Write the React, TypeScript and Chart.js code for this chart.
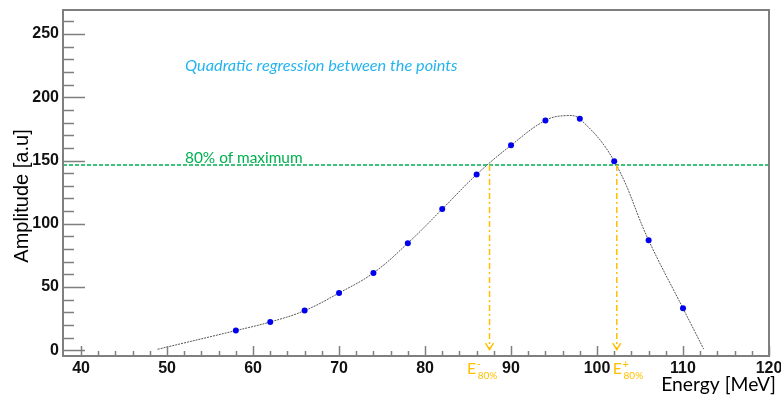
import React, { useEffect, useRef } from "react";
import { Chart, registerables } from "chart.js";

Chart.register(...registerables);

// measured points (blue)
const energies = [58, 62, 66, 70, 74, 78, 82, 86, 90, 94, 98, 102, 106, 110];
const amplitudes = [15.6, 22.4, 31.4, 45.3, 61.2, 84.7, 111.6, 139, 162, 181.7, 183, 149.5, 87, 33.2];

// regression curve (start, points, peak, end)
const curveEnergies = [48.9, 58, 62, 66, 70, 74, 78, 82, 86, 90, 94, 96.4, 98, 102, 106, 110, 112.4];
const curveAmplitudes = [0.8, 15.6, 22.4, 31.4, 45.3, 61.2, 84.7, 111.6, 139, 162, 181.7, 185.5, 183, 149.5, 87, 33.2, 1];

const threshold = 146.4; // 80% of maximum
const eMinus = 87.5;
const ePlus = 102.3;

const xTicks = [40, 50, 60, 70, 80, 90, 100, 110, 120];
const yTicks = [0, 50, 100, 150, 200, 250];
const xMinorStep = 2;
const yMinorStep = 10;
const xMin = 37.9;
const xMax = 120;
const yMin = -4.5;
const yMax = 269;

const GOLD = "#FFC000";
const GREEN = "#00B050";
const BLUE_TEXT = "#25B4EE";
const FRAME = "#7f7f7f";

const overlay = {
  id: "overlay",
  afterDatasetsDraw(chart: any) {
    const { ctx, chartArea: a, scales } = chart;
    const x = scales.x;
    const y = scales.y;
    ctx.save();

    // ticks inside the frame
    ctx.strokeStyle = FRAME;
    ctx.lineWidth = 1.5;
    ctx.beginPath();
    for (let v = yTicks[0]; v <= yMax; v += yMinorStep) {
      const py = Math.round(y.getPixelForValue(v)) + 0.5;
      const len = yTicks.includes(v) ? 22 : 11;
      ctx.moveTo(a.left, py);
      ctx.lineTo(a.left + len, py);
    }
    for (let v = xTicks[0]; v <= xMax; v += xMinorStep) {
      const px = Math.round(x.getPixelForValue(v)) + 0.5;
      const len = xTicks.includes(v) ? 10 : 5;
      ctx.moveTo(px, a.bottom);
      ctx.lineTo(px, a.bottom - len);
    }
    ctx.stroke();

    // frame
    ctx.lineWidth = 2;
    ctx.strokeRect(a.left, a.top, a.right - a.left, a.bottom - a.top);

    // vertical dash-dot lines with arrows
    ctx.strokeStyle = GOLD;
    ctx.lineWidth = 1.5;
    [eMinus, ePlus].forEach((e) => {
      const px = x.getPixelForValue(e);
      const pyTop = y.getPixelForValue(threshold);
      const pyBot = y.getPixelForValue(0.5);
      ctx.setLineDash([6, 3, 2, 3]);
      ctx.beginPath();
      ctx.moveTo(px, pyTop);
      ctx.lineTo(px, pyBot);
      ctx.stroke();
      ctx.setLineDash([]);
      ctx.beginPath();
      ctx.moveTo(px - 4, pyBot - 6.5);
      ctx.lineTo(px, pyBot);
      ctx.lineTo(px + 4, pyBot - 6.5);
      ctx.stroke();
    });

    // annotation texts
    ctx.textBaseline = "alphabetic";
    ctx.textAlign = "left";
    ctx.fillStyle = BLUE_TEXT;
    ctx.font = "italic 16.3px Lato";
    ctx.fillText("Quadratic regression between the points", 185, 71);

    ctx.fillStyle = GREEN;
    ctx.font = "15.4px Lato";
    ctx.fillText("80% of maximum", 185, 163);

    // E labels
    const drawE = (e: number, sign: string, dx: number) => {
      const px = x.getPixelForValue(e);
      ctx.fillStyle = GOLD;
      ctx.font = "16px Lato";
      const bx = px + dx;
      ctx.fillText("E", bx, 374);
      const w = ctx.measureText("E").width;
      ctx.font = "11px Lato";
      ctx.fillText(sign, bx + w + 0.5, 368);
      ctx.font = "10px Lato";
      ctx.fillText("80%", bx + w + 1.5, 379);
    };
    drawE(eMinus, "-", -22.5);
    drawE(ePlus, "+", -4);

    // axis titles
    ctx.fillStyle = "#000";
    ctx.font = "20px 'Liberation Sans'";
    ctx.save();
    ctx.translate(28, 196);
    ctx.rotate(-Math.PI / 2);
    ctx.textAlign = "center";
    ctx.fillText("Amplitude [a.u]", 0, 0);
    ctx.restore();

    ctx.textAlign = "right";
    ctx.font = "19.3px Lato";
    ctx.fillText("Energy [MeV]", 776, 391);

    ctx.restore();
  },
};

export default function App() {
  const canvasRef = useRef<HTMLCanvasElement | null>(null);

  useEffect(() => {
    const canvas = canvasRef.current;
    if (!canvas) return;
    const chart = new Chart(canvas, {
      type: "line",
      data: {
        datasets: [
          {
            label: "points",
            data: energies.map((e, i) => ({ x: e, y: amplitudes[i] })),
            showLine: false,
            pointRadius: 3,
            pointBackgroundColor: "#0000EE",
            pointBorderColor: "#0000EE",
            pointBorderWidth: 0,
            order: 0,
          },
          {
            label: "curve",
            data: curveEnergies.map((e, i) => ({ x: e, y: curveAmplitudes[i] })),
            borderColor: "#555",
            borderWidth: 1,
            borderDash: [2, 1],
            tension: 0.4,
            pointRadius: 0,
            fill: false,
            order: 1,
          },
          {
            label: "80%",
            data: [
              { x: xMin, y: threshold },
              { x: xMax, y: threshold },
            ],
            borderColor: GREEN,
            borderWidth: 1.5,
            borderDash: [4, 2],
            pointRadius: 0,
            fill: false,
            order: 2,
          },
        ],
      },
      options: {
        animation: false,
        responsive: false,
        maintainAspectRatio: false,
        layout: { padding: { top: 10, right: 12, left: 0, bottom: 0 } },
        plugins: {
          legend: { display: false },
          tooltip: { enabled: false },
          title: { display: false },
        },
        scales: {
          x: {
            type: "linear",
            min: xMin,
            max: xMax,
            grid: { display: false, drawTicks: false },
            border: { display: false },
            afterBuildTicks: (s: any) => {
              s.ticks = xTicks.map((v) => ({ value: v }));
            },
            afterFit: (s: any) => {
              s.height = 40;
              s.paddingLeft = 0;
              s.paddingRight = 0;
            },
            ticks: {
              includeBounds: false,
              autoSkip: false,
              maxRotation: 0,
              padding: 3,
              color: "#111",
              font: { family: "'Liberation Sans'", size: 16, weight: "bold" },
            },
          },
          y: {
            type: "linear",
            min: yMin,
            max: yMax,
            grid: { display: false, drawTicks: false },
            border: { display: false },
            afterBuildTicks: (s: any) => {
              s.ticks = yTicks.map((v) => ({ value: v }));
            },
            afterFit: (s: any) => {
              s.width = 63;
              s.paddingTop = 0;
              s.paddingBottom = 0;
            },
            ticks: {
              includeBounds: false,
              autoSkip: false,
              padding: 4,
              color: "#111",
              font: { family: "'Liberation Sans'", size: 16, weight: "bold" },
            },
          },
        },
      },
      plugins: [overlay],
    });
    return () => chart.destroy();
  }, []);

  return (
    <div style={{ position: "fixed", left: 0, top: 0, width: 781, height: 396, background: "#fff" }}>
      <canvas ref={canvasRef} width={781} height={396} style={{ width: 781, height: 396, display: "block" }} />
    </div>
  );
}
